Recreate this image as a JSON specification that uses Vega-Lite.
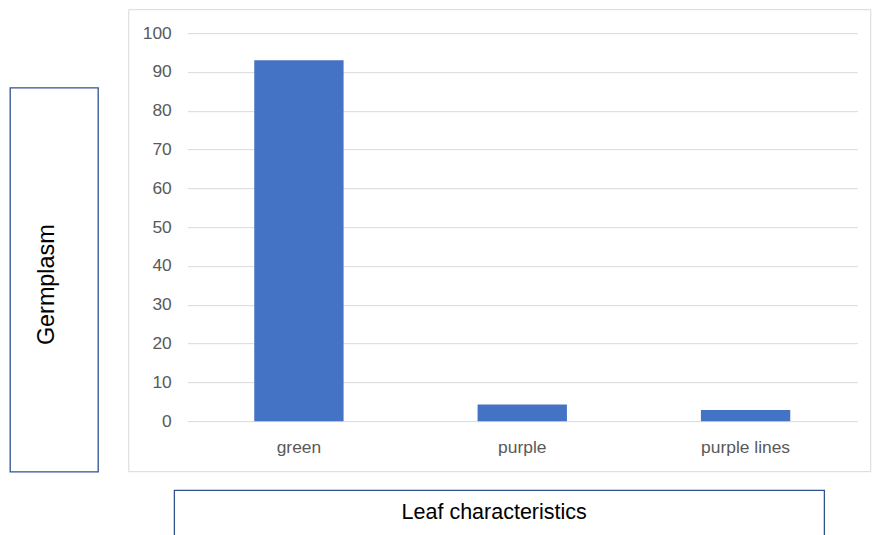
{
  "$schema": "https://vega.github.io/schema/vega-lite/v6.json",
  "padding": {"left": 9, "top": 8, "right": 2, "bottom": 0},
  "background": "white",
  "spacing": 28,
  "center": true,
  "config": {"view": {"stroke": null}},
  "hconcat": [
    {
      "width": 88,
      "height": 384,
      "view": {"stroke": "#2F528F", "strokeWidth": 1.3},
      "data": {"values": [{"label": "Germplasm"}]},
      "mark": {"type": "text", "angle": 270, "font": "Liberation Sans", "fontSize": 23.4, "color": "#000000", "dy": -7.5, "dx": -5},
      "encoding": {"text": {"field": "label"}}
    },
    {
      "spacing": 17,
      "center": true,
      "vconcat": [
        {
          "width": 742,
          "height": 462,
          "view": {"stroke": "#D9D9D9", "strokeWidth": 1},
          "data": {"values": [
            {"characteristic": "green", "germplasm": 93},
            {"characteristic": "purple", "germplasm": 4.3},
            {"characteristic": "purple lines", "germplasm": 2.9}
          ]},
          "mark": {"type": "bar", "color": "#4472C4"},
          "encoding": {
            "x": {
              "field": "characteristic", "type": "nominal", "sort": null,
              "scale": {"range": [59, 729], "paddingInner": 0.6, "paddingOuter": 0.3},
              "axis": {"title": null, "orient": "bottom", "offset": -50, "domain": false, "ticks": false, "labelAngle": 0, "labelPadding": 17, "labelFont": "Liberation Sans", "labelFontSize": 17.4, "labelColor": "#595959"}
            },
            "y": {
              "field": "germplasm", "type": "quantitative",
              "scale": {"domain": [0, 100], "range": [412, 24]},
              "axis": {"title": null, "offset": -59, "values": [0, 10, 20, 30, 40, 50, 60, 70, 80, 90, 100], "domain": false, "ticks": false, "labelPadding": 16, "grid": true, "gridColor": "#D9D9D9", "gridWidth": 1, "labelFont": "Liberation Sans", "labelFontSize": 17.4, "labelColor": "#595959"}
            }
          }
        },
        {
          "width": 650,
          "height": 60,
          "view": {"stroke": "#2F528F", "strokeWidth": 1.3},
          "data": {"values": [{"label": "Leaf characteristics"}]},
          "mark": {"type": "text", "font": "Liberation Sans", "fontSize": 21.5, "color": "#000000", "dy": -7, "dx": -5},
          "encoding": {"text": {"field": "label"}}
        }
      ]
    }
  ]
}
